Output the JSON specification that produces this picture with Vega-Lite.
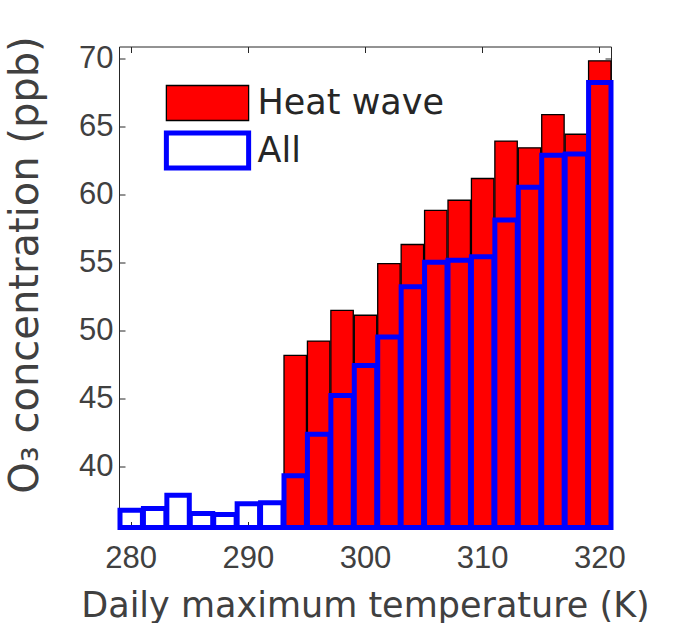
{
  "$schema": "https://vega.github.io/schema/vega-lite/v6.json",
  "width": 492,
  "height": 481,
  "autosize": "none",
  "padding": {"left": 119, "top": 46.5, "right": 64, "bottom": 95.5},
  "background": "white",
  "config": {
    "view": {"stroke": null},
    "font": "Liberation Sans",
    "axis": {"grid": false, "domainColor": "#262626", "tickColor": "#262626", "domainWidth": 1, "tickWidth": 1, "labelColor": "#404040", "titleColor": "#404040", "labelFont": "Liberation Sans", "titleFont": "DejaVu Sans", "titleFontWeight": "normal", "labelFontSize": 31, "titleFontSize": 35}
  },
  "data": {"values": [
    {"T": 280, "series": "All", "o3": 36.76},
    {"T": 282, "series": "All", "o3": 36.9},
    {"T": 284, "series": "All", "o3": 37.87},
    {"T": 286, "series": "All", "o3": 36.53},
    {"T": 288, "series": "All", "o3": 36.45},
    {"T": 290, "series": "All", "o3": 37.25},
    {"T": 292, "series": "All", "o3": 37.32},
    {"T": 294, "series": "All", "o3": 39.3},
    {"T": 296, "series": "All", "o3": 42.35},
    {"T": 298, "series": "All", "o3": 45.2},
    {"T": 300, "series": "All", "o3": 47.4},
    {"T": 302, "series": "All", "o3": 49.5},
    {"T": 304, "series": "All", "o3": 53.2},
    {"T": 306, "series": "All", "o3": 55.0},
    {"T": 308, "series": "All", "o3": 55.15},
    {"T": 310, "series": "All", "o3": 55.4},
    {"T": 312, "series": "All", "o3": 58.1},
    {"T": 314, "series": "All", "o3": 60.5},
    {"T": 316, "series": "All", "o3": 62.85},
    {"T": 318, "series": "All", "o3": 62.95},
    {"T": 320, "series": "All", "o3": 68.2},
    {"T": 294, "series": "Heat wave", "o3": 48.15},
    {"T": 296, "series": "Heat wave", "o3": 49.2},
    {"T": 298, "series": "Heat wave", "o3": 51.45},
    {"T": 300, "series": "Heat wave", "o3": 51.1},
    {"T": 302, "series": "Heat wave", "o3": 54.9},
    {"T": 304, "series": "Heat wave", "o3": 56.3},
    {"T": 306, "series": "Heat wave", "o3": 58.8},
    {"T": 308, "series": "Heat wave", "o3": 59.55},
    {"T": 310, "series": "Heat wave", "o3": 61.15},
    {"T": 312, "series": "Heat wave", "o3": 63.9},
    {"T": 314, "series": "Heat wave", "o3": 63.4},
    {"T": 316, "series": "Heat wave", "o3": 65.85},
    {"T": 318, "series": "Heat wave", "o3": 64.4},
    {"T": 320, "series": "Heat wave", "o3": 69.8}
  ]},
  "encoding": {
    "fill": {"field": "series", "type": "nominal", "scale": {"domain": ["Heat wave", "All"], "range": ["#ff0000", "transparent"]},
      "legend": {"title": null, "orient": "none", "legendX": 68.5, "legendY": 38, "padding": 0,
        "symbolType": "M-2.35,-1H2.35V1H-2.35Z", "symbolSize": 1225, "labelFont": "DejaVu Sans", "labelFontSize": 35, "labelColor": "#262626", "labelOffset": 30, "labelLimit": 400, "rowPadding": -1}},
    "stroke": {"field": "series", "type": "nominal", "scale": {"domain": ["Heat wave", "All"], "range": ["#000000", "#0000ff"]}},
    "strokeWidth": {"field": "series", "type": "nominal", "scale": {"domain": ["Heat wave", "All"], "range": [1.3, 5]}}
  },
  "layer": [
    {
      "transform": [{"filter": "datum.series === 'Heat wave'"}],
      "mark": {"type": "bar", "opacity": 1},
      "encoding": {
        "x": {"field": "T", "type": "quantitative", "bin": {"step": 2, "extent": [279, 321], "nice": false}, "scale": {"domain": [279, 321], "nice": false, "zero": false},
          "axis": {"values": [280, 290, 300, 310, 320], "format": "d", "tickSize": -6, "labelPadding": 22, "title": "Daily maximum temperature (K)", "titleBaseline": "alphabetic", "titleY": 88.5}},
        "y": {"field": "o3", "type": "quantitative", "scale": {"domain": [35.5, 70.85], "nice": false, "zero": false},
          "axis": {"values": [40, 45, 50, 55, 60, 65, 70], "tickSize": -6, "labelPadding": 12, "title": "O₃ concentration (ppb)", "titleAngle": -90, "titleBaseline": "alphabetic", "titleX": -82, "titleY": 218, "titleFontSize": 40}},
        "y2": {"datum": 35.5}
      }
    },
    {
      "transform": [{"filter": "datum.series === 'All'"}],
      "mark": {"type": "bar", "opacity": 1},
      "encoding": {
        "x": {"field": "T", "type": "quantitative", "bin": {"step": 2, "extent": [279, 321], "nice": false}, "scale": {"domain": [279, 321], "nice": false, "zero": false},
          "axis": {"orient": "top", "values": [280, 290, 300, 310, 320], "labels": false, "title": null, "tickSize": -6}},
        "y": {"field": "o3", "type": "quantitative", "scale": {"domain": [35.5, 70.85], "nice": false, "zero": false},
          "axis": {"orient": "right", "values": [40, 45, 50, 55, 60, 65, 70], "labels": false, "title": null, "tickSize": -6}},
        "y2": {"datum": 35.5}
      }
    }
  ],
  "resolve": {"axis": {"x": "independent", "y": "independent"}}
}
